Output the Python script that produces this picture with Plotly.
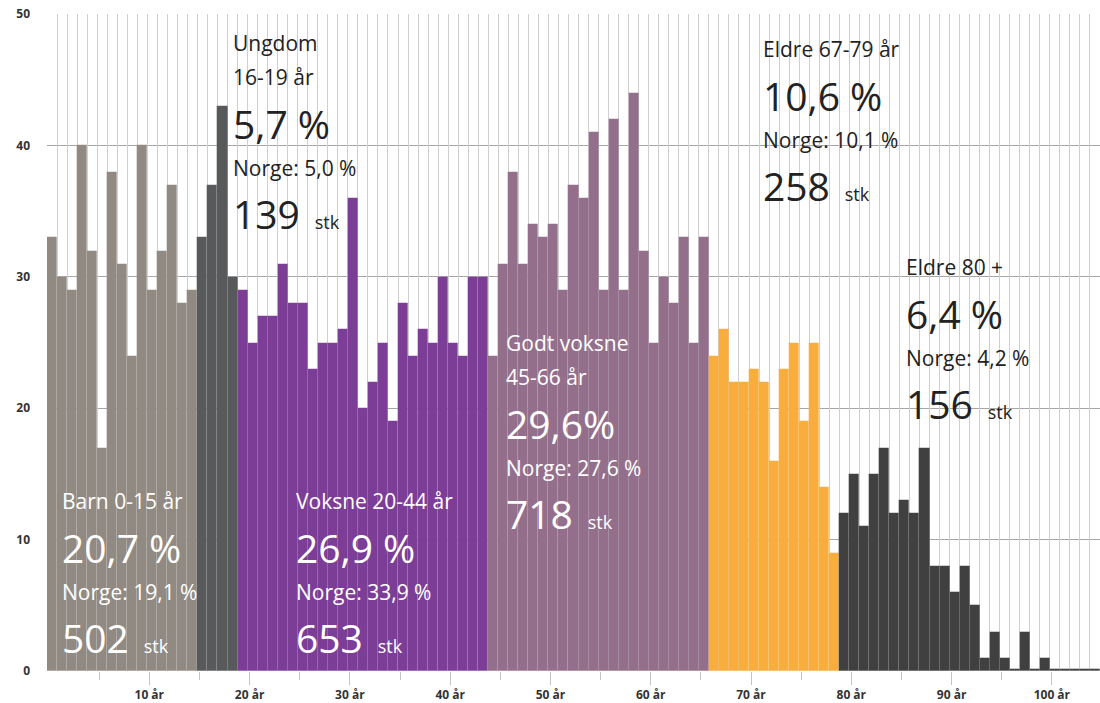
import plotly.graph_objects as go

# ---------------- data ----------------
group_keys = ["barn", "ungdom", "voksne", "godt_voksne", "eldre67", "eldre80"]
barn = [33, 30, 29, 40, 32, 17, 38, 31, 24, 40, 29, 32, 37, 28, 29]
ungdom = [33, 37, 43, 30]
voksne = [29, 25, 27, 27, 31, 28, 28, 23, 25, 25, 26, 36, 20, 22, 25, 19, 28, 24, 26, 25, 30, 25, 24, 30, 30]
godt_voksne = [24, 31, 38, 31, 34, 33, 34, 29, 37, 36, 41, 29, 42, 29, 44, 32, 25, 30, 28, 33, 25, 33]
eldre67 = [24, 26, 22, 22, 23, 22, 16, 23, 25, 19, 25, 14, 9]
eldre80 = [12, 15, 11, 15, 17, 12, 13, 12, 17, 8, 8, 6, 8, 5, 1, 3, 1, 0.15, 3, 0.15, 1, 0.15, 0.15, 0.15, 0.15, 0.15]
group_values = [barn, ungdom, voksne, godt_voksne, eldre67, eldre80]

group_names = [["Barn 0-15 år"], ["Ungdom", "16-19 år"], ["Voksne 20-44 år"],
               ["Godt voksne", "45-66 år"], ["Eldre 67-79 år"], ["Eldre 80 +"]]
group_pct = ["20,7 %", "5,7 %", "26,9 %", "29,6%", "10,6 %", "6,4 %"]
norge_pct = ["19,1 %", "5,0 %", "33,9 %", "27,6 %", "10,1 %", "4,2 %"]
group_count = [502, 139, 653, 718, 258, 156]

tick_ages = [10, 20, 30, 40, 50, 60, 70, 80, 90, 100]
tick_labels = ["10 år", "20 år", "30 år", "40 år", "50 år", "60 år", "70 år", "80 år", "90 år", "100 år"]
minor_ages = [5, 15, 25, 35, 45, 55, 65, 75, 85, 95]
y_ticks = [0, 10, 20, 30, 40, 50]

# ---------------- style ----------------
colors = ["#918a82", "#58595b", "#7b3d96", "#946f8c", "#f8ad3d", "#404040"]
text_colors = ["white", "#222222", "white", "white", "#222222", "#222222"]
# left x (px) and baseline of first label line (px) for each text block
block_x = [63, 234, 297, 507, 764, 907]
block_y = [509, 51, 509, 351, 57, 275]

FONT = "Open Sans"
W, H = 1100, 703
ML, MR, MT, MB = 47, 0, 14, 32

fig = go.Figure()
start = 0
for i, (key, vals, col) in enumerate(zip(group_keys, group_values, colors)):
    ages = list(range(start, start + len(vals)))
    fig.add_trace(go.Bar(
        x=ages, y=vals, width=1, name=key,
        xaxis="x2" if i == len(group_keys) - 1 else "x",
        marker=dict(color=col, line=dict(width=0.6, color="rgba(255,255,255,0.10)")),
        hovertemplate="%{x} år: %{y}<extra></extra>",
    ))
    start += len(vals)

# ---------------- annotations ----------------
def pxx(x):
    return (x - ML) / (W - ML - MR)

def pxy(y):
    return (H - MB - y) / (H - MT - MB)

annotations = []
def add_line(text, x, baseline, size, color):
    center = baseline - 0.39 * size
    annotations.append(dict(
        text=text, xref="paper", yref="paper", x=pxx(x - 3), y=pxy(center),
        xanchor="left", yanchor="middle", showarrow=False,
        font=dict(family=FONT, size=size, color=color),
    ))

for i in range(len(group_keys)):
    x = block_x[i]
    b = block_y[i]
    c = text_colors[i]
    for j, line in enumerate(group_names[i]):
        add_line(line, x, b + 34 * j, 21, c)
    b += 34 * (len(group_names[i]) - 1)
    add_line(group_pct[i], x, b + 54, 39, c)
    add_line("Norge: " + norge_pct[i], x, b + 91, 21, c)
    add_line(f"{group_count[i]} <span style='font-size:18px'>&nbsp;stk</span>", x, b + 144, 39, c)

fig.update_layout(
    width=W, height=H,
    margin=dict(l=ML, r=MR, t=MT, b=MB, pad=0, autoexpand=False),
    plot_bgcolor="white", paper_bgcolor="white",
    barmode="overlay", bargap=0, showlegend=False,
    annotations=annotations,
    xaxis=dict(
        range=[-0.5, 104.5], tickmode="array", automargin=False,
        tickvals=[a - 0.3 for a in tick_ages], ticktext=tick_labels,
        ticks="outside", ticklen=13, tickwidth=1, tickcolor="#c4c4c4",
        showgrid=False, zeroline=False, showline=False,
        tickfont=dict(family=FONT, size=12, color="#333333", weight="bold"),
        minor=dict(tickmode="array", tickvals=[a - 0.3 for a in minor_ages],
                   ticks="outside", ticklen=8, tickwidth=1, tickcolor="#c4c4c4", showgrid=False),
        fixedrange=True,
    ),
    xaxis2=dict(
        overlaying="x", matches="x", anchor="y", side="bottom", automargin=False,
        tickmode="linear", tick0=-0.5, dtick=1,
        showgrid=True, gridcolor="#cfcfcf", gridwidth=1,
        showticklabels=False, ticks="", zeroline=False, showline=False,
        fixedrange=True,
    ),
    yaxis=dict(
        range=[0, 50], tickmode="array", tickvals=y_ticks, automargin=False,
        showgrid=True, gridcolor="#a6a6a6", gridwidth=1,
        zeroline=False, showline=False, ticks="", ticklabelstandoff=16,
        tickfont=dict(family=FONT, size=12, color="#333333", weight="bold"),
        fixedrange=True,
    ),
)

fig.write_html(
    "out.html",
    config={"displayModeBar": False},
    post_script="document.body.style.margin='0';document.body.style.overflow='hidden';",
)
